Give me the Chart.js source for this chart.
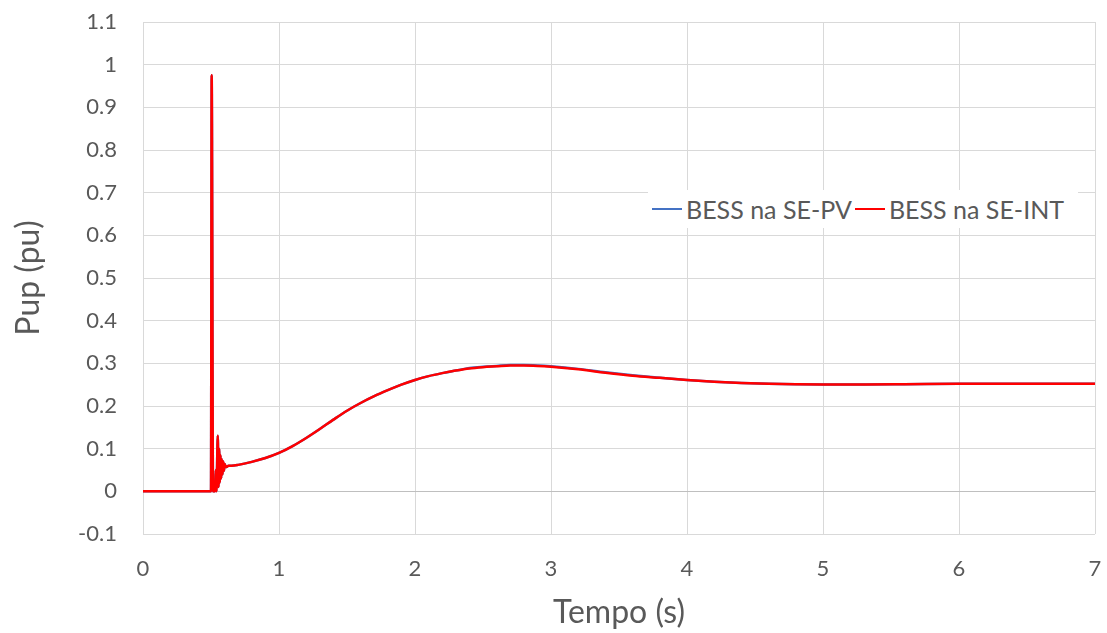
<!DOCTYPE html>
<html>
<head>
<meta charset="utf-8">
<script src="https://cdn.jsdelivr.net/npm/chart.js@4"></script>
<style>
  html, body { margin: 0; padding: 0; background: #fff; }
  #wrap { position: relative; width: 1107px; height: 633px; }
  #legend {
    position: absolute; left: 648px; top: 190px; height: 38px;
    background: #fff; font-family: Lato, sans-serif; font-size: 25px; color: #595959;
    display: flex; align-items: center; white-space: nowrap; padding: 0 14px 0 4px;
  }
  #legend .sw { display: inline-block; width: 30px; height: 2.5px; margin: 0 4px 0 0; }
</style>
</head>
<body>
<div id="wrap">
  <canvas id="chart" width="1107" height="633"></canvas>
  <div id="legend">
    <span class="sw" style="background:#4472C4"></span><span>BESS na SE-PV</span>
    <span class="sw" style="background:#FF0000;margin-left:3px"></span><span>BESS na SE-INT</span>
  </div>
</div>
<script>
// time (s)
const tempo = [0, 0.49, 0.5, 0.505, 0.515, 0.53, 0.535, 0.54, 0.55, 0.555, 0.56, 0.565, 0.57, 0.575,
  0.58, 0.585, 0.59, 0.595, 0.6, 0.61, 0.63, 0.65, 0.7, 0.8, 0.9, 1.0, 1.1, 1.2, 1.3, 1.4, 1.5,
  1.6, 1.7, 1.8, 1.9, 2.0, 2.1, 2.2, 2.3, 2.4, 2.5, 2.6, 2.7, 2.8, 2.9, 3.0, 3.2, 3.4, 3.6, 3.8,
  4.0, 4.2, 4.4, 4.6, 4.8, 5.0, 5.3, 5.6, 6.0, 6.5, 7.0];

const pupPV = [0, 0, 0, 0.975, 0, 0, 0.05, 0, 0.13, 0.01, 0.1, 0.02, 0.085, 0.03,
  0.075, 0.04, 0.07, 0.048, 0.064, 0.057, 0.06, 0.06, 0.062, 0.069, 0.078, 0.09, 0.106, 0.125, 0.146, 0.168, 0.189,
  0.207, 0.223, 0.237, 0.25, 0.261, 0.27, 0.277, 0.283, 0.289, 0.292, 0.294, 0.296, 0.296, 0.295, 0.293, 0.287, 0.279, 0.272, 0.266,
  0.261, 0.257, 0.254, 0.252, 0.251, 0.2505, 0.2505, 0.251, 0.252, 0.252, 0.252];

const pupINT = [0, 0, 0, 0.975, 0, 0, 0.05, 0, 0.13, 0.01, 0.1, 0.02, 0.085, 0.03,
  0.075, 0.04, 0.07, 0.048, 0.064, 0.057, 0.06, 0.06, 0.062, 0.069, 0.078, 0.09, 0.106, 0.125, 0.146, 0.168, 0.189,
  0.207, 0.223, 0.237, 0.25, 0.261, 0.27, 0.277, 0.283, 0.288, 0.291, 0.293, 0.295, 0.295, 0.294, 0.292, 0.286, 0.278, 0.271, 0.266,
  0.261, 0.257, 0.254, 0.252, 0.251, 0.2505, 0.2505, 0.251, 0.252, 0.252, 0.252];

const yTicks = [-0.1, 0, 0.1, 0.2, 0.3, 0.4, 0.5, 0.6, 0.7, 0.8, 0.9, 1, 1.1];
const xTicks = [0, 1, 2, 3, 4, 5, 6, 7];

const toPoints = (xs, ys) => xs.map((x, i) => ({ x: x, y: ys[i] }));

const tickFont = { family: 'Lato, sans-serif', size: 22 };
const titleFont = { family: 'Lato, sans-serif', size: 32 };

new Chart(document.getElementById('chart').getContext('2d'), {
    type: 'line',
    data: {
        datasets: [{
            label: 'BESS na SE-PV',
            data: toPoints(tempo, pupPV),
            borderColor: '#4472C4',
            borderWidth: 2.5,
            pointRadius: 0,
            order: 2,
            cubicInterpolationMode: 'monotone'
        }, {
            label: 'BESS na SE-INT',
            data: toPoints(tempo, pupINT),
            borderColor: '#FF0000',
            borderWidth: 2.5,
            pointRadius: 0,
            order: 1,
            cubicInterpolationMode: 'monotone'
        }]
    },
    options: {
        responsive: false,
        animation: false,
        layout: { padding: { top: 22, right: 12, left: 0, bottom: 0 } },
        plugins: {
            legend: { display: false },
            tooltip: { enabled: false }
        },
        scales: {
            x: {
                type: 'linear',
                min: 0,
                max: 7,
                afterBuildTicks: s => { s.ticks = xTicks.map(v => ({ value: v })); },
                afterFit: s => { s.height = 99; s.paddingLeft = 0; s.paddingRight = 0; },
                ticks: { font: tickFont, color: '#595959', padding: 22, maxRotation: 0 },
                grid: { color: '#d9d9d9', lineWidth: 1, drawTicks: false },
                border: { display: false },
                title: { display: true, text: 'Tempo (s)', font: titleFont, color: '#595959', padding: { top: 0, bottom: 1 } }
            },
            y: {
                min: -0.1,
                max: 1.1,
                afterBuildTicks: s => { s.ticks = yTicks.map(v => ({ value: v })); },
                afterFit: s => { s.width = 143; s.paddingTop = 0; s.paddingBottom = 0; },
                ticks: { font: tickFont, color: '#595959', padding: 26, callback: v => String(Math.round(v * 10) / 10) },
                grid: {
                    color: ctx => ctx.tick && ctx.tick.value === 0 ? '#bfbfbf' : '#d9d9d9',
                    lineWidth: 1,
                    drawTicks: false
                },
                border: { display: false },
                title: { display: true, text: 'Pup (pu)', font: titleFont, color: '#595959', padding: { top: 9, bottom: 0 } }
            }
        }
    }
});
</script>
</body>
</html>
